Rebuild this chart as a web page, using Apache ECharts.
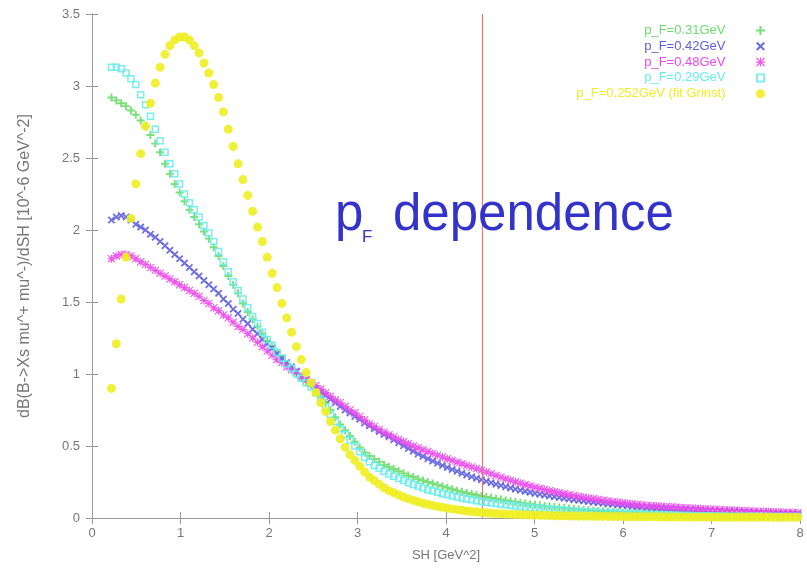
<!DOCTYPE html>
<html>
<head>
<meta charset="utf-8">
<script src="https://cdn.jsdelivr.net/npm/echarts@6/dist/echarts.min.js"></script>
<style>html,body{margin:0;padding:0;background:#fff}#c{width:807px;height:570px}</style>
</head>
<body>
<div id="c"></div>
<script>
// ---- data ----
const SH = [0.22,0.275,0.33,0.385,0.44,0.495,0.55,0.605,0.66,0.715,0.77,0.825,0.88,0.935,0.99,1.045,1.1,1.155,1.21,1.265,1.32,1.375,1.43,1.485,1.54,1.595,1.65,1.705,1.76,1.815,1.87,1.925,1.98,2.035,2.09,2.145,2.2,2.255,2.31,2.365,2.42,2.475,2.53,2.585,2.64,2.695,2.75,2.805,2.86,2.915,2.97,3.025,3.08,3.135,3.19,3.245,3.3,3.355,3.41,3.465,3.52,3.575,3.63,3.685,3.74,3.795,3.85,3.905,3.96,4.015,4.07,4.125,4.18,4.235,4.29,4.345,4.4,4.455,4.51,4.565,4.62,4.675,4.73,4.785,4.84,4.895,4.95,5.005,5.06,5.115,5.17,5.225,5.28,5.335,5.39,5.445,5.5,5.555,5.61,5.665,5.72,5.775,5.83,5.885,5.94,5.995,6.05,6.105,6.16,6.215,6.27,6.325,6.38,6.435,6.49,6.545,6.6,6.655,6.71,6.765,6.82,6.875,6.93,6.985,7.04,7.095,7.15,7.205,7.26,7.315,7.37,7.425,7.48,7.535,7.59,7.645,7.7,7.755,7.81,7.865,7.92,7.975];

const pF031 = [2.92,2.90,2.88,2.86,2.83,2.80,2.76,2.72,2.66,2.60,
2.54,2.46,2.39,2.32,2.26,2.20,2.14,2.09,2.04,1.99,
1.94,1.88,1.82,1.75,1.68,1.62,1.56,1.49,1.43,1.38,
1.33,1.28,1.23,1.19,1.15,1.11,1.07,1.04,1.00,0.97,
0.95,0.92,0.88,0.84,0.80,0.75,0.70,0.65,0.61,0.57,
0.53,0.49,0.455,0.43,0.41,0.39,0.37,0.355,0.34,0.325,
0.31,0.295,0.285,0.27,0.26,0.25,0.24,0.23,0.22,0.21,
0.20,0.19,0.182,0.174,0.167,0.16,0.153,0.146,0.14,0.134,
0.128,0.122,0.116,0.111,0.106,0.101,0.096,0.092,0.088,0.084,
0.080,0.076,0.073,0.069,0.066,0.063,0.060,0.057,0.054,0.052,
0.049,0.047,0.045,0.043,0.041,0.039,0.037,0.036,0.034,0.033,
0.031,0.030,0.029,0.028,0.027,0.026,0.025,0.024,0.023,0.022,
0.021,0.020,0.020,0.019,0.019,0.018,0.018,0.017,0.017,0.016,
0.016,0.016,0.015,0.015,0.015,0.014,0.014,0.014,0.013,0.013,
0.013,0.013];

const pF042 = [2.07,2.09,2.10,2.09,2.07,2.04,2.02,2.00,1.97,1.95,
1.92,1.89,1.86,1.83,1.80,1.77,1.74,1.71,1.68,1.65,
1.62,1.59,1.56,1.52,1.49,1.45,1.42,1.38,1.35,1.31,
1.28,1.24,1.21,1.18,1.14,1.11,1.08,1.05,1.02,0.99,
0.96,0.93,0.90,0.875,0.85,0.825,0.80,0.775,0.75,0.73,
0.705,0.685,0.66,0.64,0.62,0.60,0.58,0.565,0.543,0.522,
0.502,0.482,0.463,0.445,0.428,0.411,0.395,0.38,0.365,0.351,
0.337,0.324,0.311,0.299,0.287,0.276,0.265,0.255,0.245,0.235,
0.226,0.217,0.209,0.200,0.193,0.185,0.178,0.171,0.165,0.159,
0.153,0.148,0.142,0.137,0.132,0.127,0.123,0.118,0.114,0.110,
0.106,0.102,0.098,0.095,0.091,0.088,0.085,0.082,0.079,0.076,
0.073,0.071,0.069,0.067,0.065,0.063,0.061,0.059,0.058,0.056,
0.054,0.053,0.051,0.050,0.048,0.047,0.046,0.044,0.043,0.042,
0.041,0.040,0.038,0.037,0.036,0.035,0.034,0.033,0.032,0.031,
0.031,0.030];

const pF048 = [1.80,1.82,1.83,1.83,1.82,1.80,1.78,1.76,1.74,1.72,
1.70,1.68,1.66,1.64,1.62,1.60,1.58,1.56,1.54,1.51,
1.49,1.46,1.44,1.41,1.39,1.36,1.33,1.31,1.28,1.25,
1.22,1.19,1.16,1.13,1.10,1.08,1.05,1.03,1.01,0.98,
0.96,0.94,0.92,0.895,0.87,0.845,0.82,0.80,0.775,0.75,
0.73,0.705,0.68,0.655,0.635,0.615,0.595,0.578,0.562,0.546,
0.53,0.515,0.50,0.487,0.474,0.461,0.448,0.436,0.424,0.412,
0.40,0.388,0.376,0.365,0.354,0.343,0.332,0.319,0.307,0.295,
0.283,0.272,0.262,0.251,0.241,0.232,0.223,0.214,0.206,0.198,
0.190,0.183,0.176,0.169,0.162,0.156,0.150,0.144,0.138,0.133,
0.128,0.123,0.118,0.113,0.109,0.105,0.101,0.097,0.093,0.090,
0.087,0.085,0.083,0.080,0.078,0.076,0.074,0.072,0.070,0.068,
0.066,0.064,0.062,0.060,0.059,0.057,0.056,0.054,0.053,0.051,
0.050,0.048,0.047,0.046,0.045,0.043,0.042,0.041,0.040,0.039,
0.038,0.037];

const pF029 = [3.13,3.13,3.12,3.09,3.05,3.01,2.94,2.87,2.79,2.70,
2.62,2.54,2.46,2.39,2.32,2.25,2.19,2.14,2.09,2.03,
1.98,1.92,1.85,1.78,1.71,1.64,1.58,1.52,1.46,1.40,
1.35,1.29,1.24,1.20,1.15,1.11,1.07,1.04,1.00,0.97,
0.94,0.91,0.87,0.82,0.77,0.72,0.67,0.62,0.58,0.54,
0.50,0.46,0.42,0.39,0.365,0.345,0.325,0.305,0.29,0.275,
0.26,0.245,0.232,0.22,0.208,0.197,0.187,0.178,0.169,0.161,
0.153,0.146,0.139,0.132,0.126,0.12,0.115,0.110,0.105,0.100,
0.096,0.092,0.088,0.084,0.080,0.077,0.073,0.070,0.067,0.064,
0.061,0.058,0.055,0.053,0.050,0.048,0.046,0.044,0.042,0.040,
0.038,0.036,0.035,0.033,0.032,0.030,0.029,0.028,0.026,0.025,
0.024,0.023,0.022,0.021,0.020,0.019,0.019,0.018,0.017,0.017,
0.016,0.016,0.015,0.015,0.014,0.014,0.014,0.013,0.013,0.013,
0.012,0.012,0.012,0.012,0.011,0.011,0.011,0.011,0.011,0.010,
0.010,0.010];

const pFfit = [0.90,1.21,1.52,1.81,2.08,2.32,2.53,2.72,2.88,3.02,
3.13,3.22,3.28,3.32,3.34,3.34,3.32,3.28,3.23,3.16,
3.09,3.01,2.92,2.82,2.70,2.58,2.46,2.35,2.24,2.13,
2.02,1.92,1.81,1.70,1.60,1.49,1.39,1.29,1.19,1.10,
1.01,0.94,0.87,0.80,0.74,0.67,0.61,0.55,0.49,0.44,
0.40,0.36,0.32,0.285,0.26,0.235,0.21,0.19,0.175,0.16,
0.145,0.133,0.122,0.112,0.103,0.095,0.087,0.080,0.074,0.068,
0.063,0.058,0.053,0.049,0.045,0.042,0.039,0.036,0.033,0.031,
0.029,0.027,0.026,0.024,0.023,0.022,0.021,0.020,0.019,0.018,
0.017,0.016,0.016,0.015,0.014,0.014,0.013,0.013,0.012,0.012,
0.011,0.011,0.011,0.010,0.010,0.010,0.009,0.009,0.009,0.008,
0.008,0.008,0.008,0.007,0.007,0.007,0.007,0.007,0.006,0.006,
0.006,0.006,0.006,0.006,0.005,0.005,0.005,0.005,0.005,0.005,
0.005,0.005,0.005,0.005,0.005,0.005,0.004,0.004,0.004,0.004,
0.004,0.004];

const seriesNames = ['p_F=0.31GeV','p_F=0.42GeV','p_F=0.48GeV','p_F=0.29GeV','p_F=0.252GeV (fit Grinst)'];
const xTicks = [0,1,2,3,4,5,6,7,8];
const yTicks = [0,0.5,1,1.5,2,2.5,3,3.5];
const CUT_SH = 4.41;

// ---- styling ----
const FONT = '"Liberation Sans", Arial, sans-serif';
const COL = ['#6ddc6d','#5e5ee0','#ec48ec','#6aecec','#eeee22'];
const SYM_PLUS = 'path://M3.8,0h2.4v10h-2.4z M0,3.8h10v2.4h-10z';
const SYM_X = 'path://M0,1.7L1.7,0L5,3.3L8.3,0L10,1.7L6.7,5L10,8.3L8.3,10L5,6.7L1.7,10L0,8.3L3.3,5Z';
const SYM_STAR = 'path://M4.3,0h1.4v10h-1.4z M0,4.3h10v1.4h-10z M1,0L5,4L9,0L10,1L6,5L10,9L9,10L5,6L1,10L0,9L4,5L0,1Z';
const SYM_BOX = 'path://M0,0h10v10h-10z M2,2v6h6v-6z';
const SYMS = [SYM_PLUS, SYM_X, SYM_STAR, SYM_BOX, 'circle'];
const SIZES = [8, 7.5, 8, 7.5, 9];
const VALS = [pF031, pF042, pF048, pF029, pFfit];

function pairs(v){ return SH.map((x,i)=>[x, v[i]]); }

const axisLineStyle = {color:'#999', width:1};
const chart = echarts.init(document.getElementById('c'), null, {renderer:'canvas'});

const series = VALS.map((v,k)=>{
  const s = {
    name: seriesNames[k], type:'scatter', xAxisIndex:0, yAxisIndex:0,
    data: pairs(v), symbol: SYMS[k], symbolSize: SIZES[k], clip:false,
    itemStyle: {color:COL[k], opacity:0.9},
    emphasis:{disabled:true}, z: 2+k
  };
  if (k===0) {
    s.markLine = {silent:true, symbol:'none', label:{show:false}, animation:false,
      lineStyle:{color:'#e07a7a', width:1.2, type:'solid'}, data:[{xAxis: CUT_SH}]};
  }
  return s;
});

chart.setOption({
  animation:false,
  backgroundColor:'#fff',
  grid:{left:92, right:7, top:14, bottom:52},
  xAxis:[{
    type:'value', min:xTicks[0], max:xTicks[xTicks.length-1], interval:1,
    name:'SH [GeV^2]', nameLocation:'middle', nameGap:31,
    nameTextStyle:{color:'#777', fontSize:13, fontFamily:FONT},
    axisLine:{lineStyle:axisLineStyle}, axisTick:{inside:true, length:6, lineStyle:axisLineStyle},
    axisLabel:{color:'#777', fontSize:13, fontFamily:FONT, margin:9}, splitLine:{show:false}
  },{
    type:'value', position:'top', min:xTicks[0], max:xTicks[xTicks.length-1], interval:1,
    axisLine:{lineStyle:axisLineStyle}, axisTick:{inside:true, length:6, lineStyle:axisLineStyle},
    axisLabel:{show:false}, splitLine:{show:false}
  }],
  yAxis:[{
    type:'value', min:yTicks[0], max:yTicks[yTicks.length-1], interval:0.5,
    name:'dB(B->Xs mu^+ mu^-)/dSH [10^-6 GeV^-2]', nameLocation:'middle', nameGap:59,
    nameTextStyle:{color:'#777', fontSize:16, fontFamily:FONT},
    axisLine:{show:true, lineStyle:axisLineStyle}, axisTick:{show:true, inside:true, length:6, lineStyle:axisLineStyle},
    axisLabel:{color:'#777', fontSize:13, fontFamily:FONT, margin:12}, splitLine:{show:false}
  },{
    type:'value', position:'right', min:yTicks[0], max:yTicks[yTicks.length-1], interval:0.5,
    axisLine:{show:true, lineStyle:axisLineStyle}, axisTick:{show:true, inside:true, length:6, lineStyle:axisLineStyle},
    axisLabel:{show:false}, splitLine:{show:false}
  }],
  legend:{
    orient:'vertical', right:37, top:19, align:'right',
    itemWidth:60, itemHeight:9, itemGap:2.8, selectedMode:false,
    textStyle:{fontSize:13, fontFamily:FONT, lineHeight:13},
    data: seriesNames.map((n,k)=>({name:n, icon:SYMS[k], textStyle:{color:COL[k]}}))
  },
  graphic:[
    {type:'text', x:335, y:216, z:100, style:{text:'p', fontSize:51, fontFamily:FONT, fill:'#3333cc', verticalAlign:'middle'}},
    {type:'text', x:362, y:237, z:100, style:{text:'F', fontSize:17, fontFamily:FONT, fill:'#3333cc', verticalAlign:'middle'}},
    {type:'text', x:393, y:216, z:100, style:{text:'dependence', fontSize:51, fontFamily:FONT, fill:'#3333cc', verticalAlign:'middle'}}
  ],
  series: series
});
</script>
</body>
</html>
